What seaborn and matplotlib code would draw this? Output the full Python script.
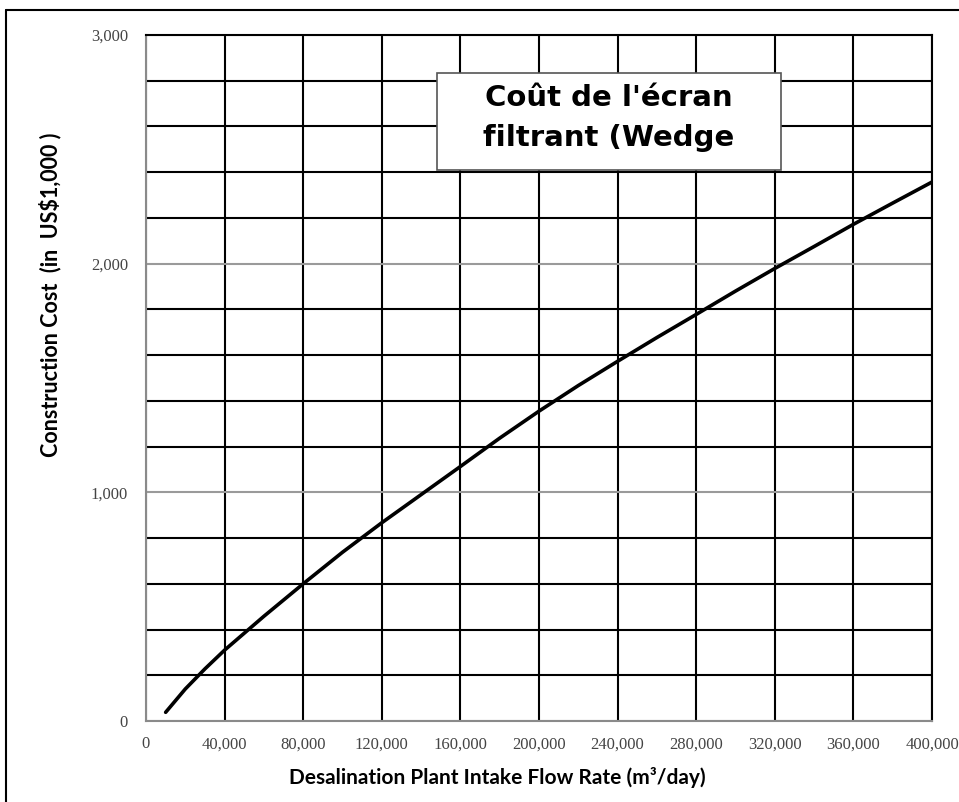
import numpy as np
import pandas as pd
import matplotlib
matplotlib.use("Agg")
import matplotlib.pyplot as plt
from matplotlib.ticker import MultipleLocator, FuncFormatter
from matplotlib.lines import Line2D
from matplotlib.patches import Rectangle
import seaborn as sns

sns.set_style("white")

# flow rate (m3/day) and construction cost (US$1,000)
flow = [10000, 20000, 30000, 40000, 60000, 80000, 100000, 120000, 140000,
        160000, 180000, 200000, 220000, 240000, 260000, 280000, 300000,
        320000, 340000, 360000, 380000, 400000]
cost = [38, 140, 228, 310, 458, 600, 738, 867, 990,
        1113, 1237, 1355, 1467, 1573, 1677, 1778, 1880,
        1979, 2075, 2172, 2265, 2357]

title_text = "Coût de l'écran\nfiltrant (Wedge"
xlabel = "Desalination Plant Intake Flow Rate (m³/day)"
ylabel = "Construction Cost  (in  US$1,000 )"

df = pd.DataFrame({"flow": flow, "cost": cost})

fig = plt.figure(figsize=(9.59, 8.02), dpi=100)
ax = fig.add_axes([146 / 959, 1 - 721 / 802, (932 - 146) / 959, (721 - 35) / 802])

sns.lineplot(data=df, x="flow", y="cost", color="black", linewidth=2.6, ax=ax,
             solid_capstyle="round")

ax.set_xlim(0, 400000)
ax.set_ylim(0, 3000)
ax.xaxis.set_major_locator(MultipleLocator(40000))
ax.xaxis.set_minor_locator(MultipleLocator(20000))
ax.yaxis.set_major_locator(MultipleLocator(1000))
ax.yaxis.set_minor_locator(MultipleLocator(200))
fmt = FuncFormatter(lambda v, p: f"{int(v):,}")
ax.xaxis.set_major_formatter(fmt)
ax.yaxis.set_major_formatter(fmt)

ax.set_axisbelow(True)
ax.xaxis.grid(True, which="major", color="black", linewidth=1.5)
ax.yaxis.grid(True, which="minor", color="black", linewidth=1.5)
ax.yaxis.grid(True, which="major", color="#9a9a9a", linewidth=1.5)

for side in ["top", "right"]:
    ax.spines[side].set_color("black")
    ax.spines[side].set_linewidth(1.5)
for side in ["left", "bottom"]:
    ax.spines[side].set_color("#8a8a8a")
    ax.spines[side].set_linewidth(1.5)

ax.tick_params(axis="x", which="major", direction="out", length=5, color="#8a8a8a",
               labelsize=12, labelcolor="#444444", pad=6)
ax.tick_params(axis="x", which="minor", direction="in", length=5, color="#8a8a8a")
ax.tick_params(axis="y", which="major", direction="out", length=7, color="#8a8a8a",
               labelsize=12, labelcolor="#444444", pad=6)
ax.tick_params(axis="y", which="minor", length=0)
for lab in ax.get_xticklabels() + ax.get_yticklabels():
    lab.set_fontfamily("Liberation Serif")

ax.set_xlabel("")
ax.set_ylabel("")
fig.text(497 / 959, 1 - 777 / 802, xlabel, ha="center", va="center",
         fontsize=15, fontweight="bold", family="Lato", color="black")
fig.text(50 / 959, 1 - 295 / 802, ylabel, ha="center", va="center", rotation=90,
         fontsize=15.5, fontweight="bold", family="Lato", color="black")

# title box
fig.add_artist(Rectangle((437 / 959, 1 - 170 / 802), (781 - 437) / 959, (170 - 73) / 802,
                         transform=fig.transFigure, facecolor="white",
                         edgecolor="#555555", linewidth=1.2, zorder=5))
fig.text(609 / 959, 1 - 118 / 802, title_text, ha="center", va="center",
         fontsize=21, fontweight="bold", family="DejaVu Sans", linespacing=1.55,
         color="black", zorder=6)

# outer frame of the original picture (left and top edges only)
fig.add_artist(Line2D([5.5 / 959, 5.5 / 959], [0, 1 - 9.5 / 802], color="black",
                      linewidth=1.5, transform=fig.transFigure))
fig.add_artist(Line2D([5.5 / 959, 1], [1 - 9.5 / 802, 1 - 9.5 / 802], color="black",
                      linewidth=1.5, transform=fig.transFigure))

fig.savefig("out.png", dpi=100)
